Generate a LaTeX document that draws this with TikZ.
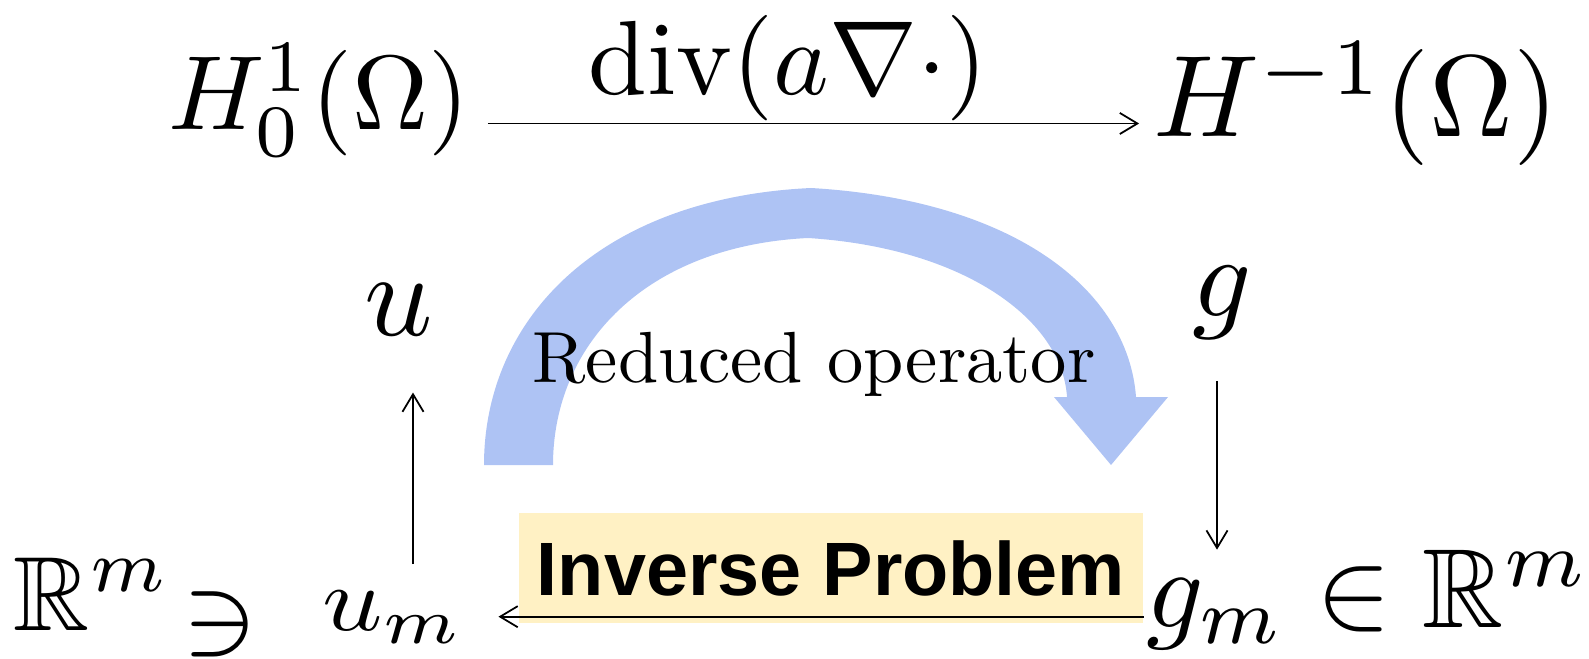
\documentclass[tikz,border=0pt]{standalone}
\usepackage{amsmath,amssymb}
\usepackage{fontspec}
\newfontfamily\invfont{Liberation Sans}
\usetikzlibrary{arrows.meta}
\definecolor{arcblue}{RGB}{174,195,244}
\definecolor{boxyellow}{RGB}{255,241,196}

\begin{document}
\begin{tikzpicture}[x=.01cm,y=-.01cm,
    lbl/.style={inner sep=0pt,anchor=base,transform shape},
    arr/.style={line width=.5pt,-{Straight Barb[length=5pt,width=6pt]}}]
  \useasboundingbox (0,0) rectangle (1589,658);
  \clip (0,0) rectangle (1589,658);
  \fill[arcblue] (484,465) .. controls (484,320) and (598,198) .. (811,188)
    .. controls (1015,200) and (1128,290) .. (1136,397)
    -- (1168,397) -- (1111,465) -- (1054,397) -- (1067,397)
    .. controls (1062,320) and (965,248) .. (808,238)
    .. controls (645,246) and (553,345) .. (553,465) -- cycle;

  \node[lbl,scale=3] (H01) at (319,130) {$H_0^1(\Omega)$};
  \node[lbl,scale=3] (divop) at (788,95) {$\operatorname{div}(a\nabla\cdot)$};
  \node[lbl,scale=3.3] (Hm1) at (1356,137) {$H^{-1}(\Omega)$};
  \node[lbl,scale=3.4] (u) at (399,336) {$u$};
  \node[lbl,scale=3.3] (g) at (1222,317) {$g$};
  \node[lbl,scale=2.06] (redop) at (814,383) {Reduced operator};
  \node[fill=boxyellow,inner sep=0pt,minimum width=6.24cm,minimum height=1.1cm] (inv) at (831,568)
    {\invfont\bfseries\fontsize{21.5}{25}\selectfont Inverse Problem};
  \node[lbl,scale=3] (Rm) at (92,630) {$\mathbb{R}^m$};
  \node[lbl,scale=3.2] (ni) at (220,652) {$\ni$};
  \node[lbl,xscale=3,yscale=2.6] (um) at (393,630) {$u_m$};
  \node[lbl,scale=3.2] (gm) at (1368,627) {$g_m \in \mathbb{R}^m$};

  \draw[arr,shorten <=4.5pt,shorten >=3.5pt] (H01.east |- divop.south) -- (Hm1.west |- divop.south);
  \draw[arr,shorten <=7pt,shorten >=15.4pt] (um.north -| 413,0) -- (u.south -| 413,0);
  \draw[arr,shorten <=11.1pt,shorten >=-.7pt] (g.south -| 1217,0) -- (gm.north -| 1217,0);
  \draw[arr,shorten >=9.4pt] ([yshift=2pt]inv.south east) -- ([yshift=2pt]inv.south -| um.east);
\end{tikzpicture}
\end{document}
